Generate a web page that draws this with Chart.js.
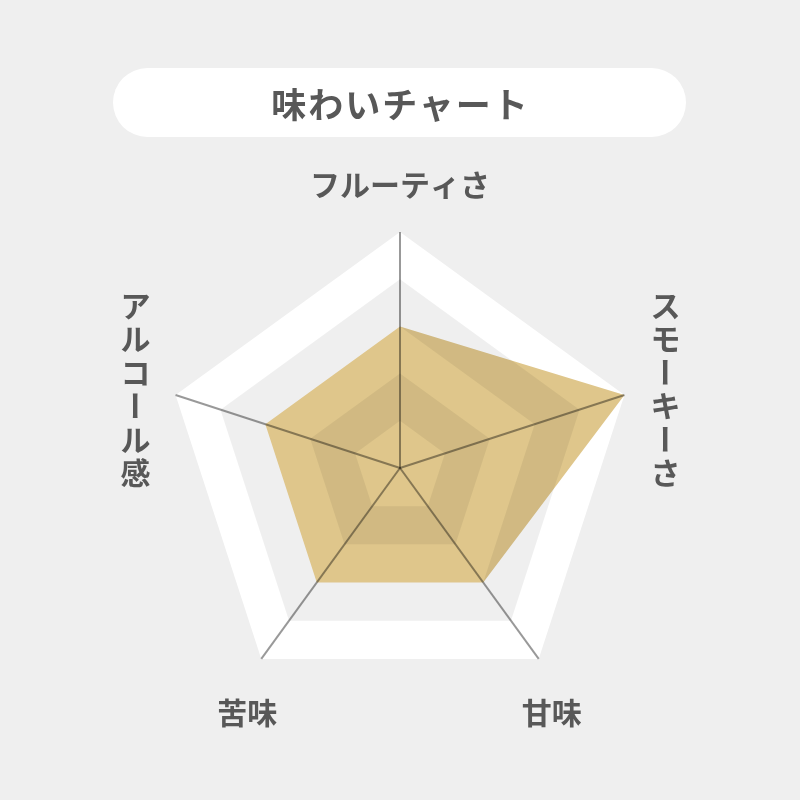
<!DOCTYPE html>
<html>
<head>
<meta charset="utf-8">
<script src="https://cdn.jsdelivr.net/npm/chart.js@4/dist/chart.umd.min.js"></script>
<style>
  html, body { margin: 0; padding: 0; background: #efefef; }
  #wrap { position: relative; width: 800px; height: 800px; }
  #title {
    position: absolute; left: 113px; top: 68px; width: 573px; height: 69px;
    border-radius: 35px; background: #ffffff; color: #585858;
    font-family: "Noto Sans CJK JP", "Noto Sans", sans-serif; font-weight: 700;
    font-size: 35px; line-height: 69px; text-align: center;
    letter-spacing: 2px; text-indent: 2px;
  }
  canvas { position: absolute; left: 0; top: 0; }
</style>
</head>
<body>
<div id="wrap">
  <canvas id="c" width="800" height="800"></canvas>
  <div id="title">味わいチャート</div>
</div>
<script>
// ---- data ----
const categories = ["フルーティさ", "スモーキーさ", "甘味", "苦味", "アルコール感"];
const tasteValues = [3, 5, 3, 3, 3];
const scaleMax = 5;
const shadedBands = [[3, 4], [1, 2]];

// ---- label styling (offsets from each outer vertex, px) ----
const labelOffsets = [[0, -47], [41, -6], [13, 54], [-14, 54], [-40, -6]];
const labelVertical = [false, true, false, false, true];

function polygonPath(ctx, scale, value) {
  const n = scale._pointLabels.length;
  const r = scale.getDistanceFromCenterForValue(value);
  for (let i = 0; i < n; i++) {
    const p = scale.getPointPosition(i, r);
    if (i === 0) ctx.moveTo(p.x, p.y); else ctx.lineTo(p.x, p.y);
  }
  ctx.closePath();
}

const bandPlugin = {
  id: 'bands',
  beforeDatasetsDraw(chart) {
    const ctx = chart.ctx, scale = chart.scales.r;
    ctx.save();
    ctx.beginPath();
    polygonPath(ctx, scale, scaleMax);
    ctx.fillStyle = '#ffffff';
    ctx.fill();
    ctx.restore();
  },
  afterDatasetsDraw(chart) {
    const ctx = chart.ctx, scale = chart.scales.r;
    ctx.save();
    shadedBands.forEach(([lo, hi]) => {
      ctx.beginPath();
      polygonPath(ctx, scale, hi);
      polygonPath(ctx, scale, lo);
      ctx.fillStyle = 'rgba(0,0,0,0.063)';
      ctx.fill('evenodd');
    });
    ctx.restore();
  }
};

const labelPlugin = {
  id: 'labels',
  afterDraw(chart) {
    const ctx = chart.ctx, scale = chart.scales.r;
    ctx.save();
    ctx.fillStyle = '#585858';
    ctx.font = '600 30px "Noto Sans CJK JP", "Noto Sans", sans-serif';
    ctx.textAlign = 'center';
    ctx.textBaseline = 'middle';
    categories.forEach((label, i) => {
      const v = scale.getPointPosition(i, scale.drawingArea);
      const cx = v.x + labelOffsets[i][0];
      const cy = v.y + labelOffsets[i][1];
      if (!labelVertical[i]) {
        ctx.fillText(label, cx, cy);
      } else {
        const chars = Array.from(label);
        const step = 33.5;
        const start = cy - step * (chars.length - 1) / 2;
        chars.forEach((ch, k) => {
          const y = start + k * step;
          if (ch === 'ー') {
            ctx.save();
            ctx.translate(cx, y);
            ctx.rotate(Math.PI / 2);
            ctx.fillText(ch, 0, 0);
            ctx.restore();
          } else {
            ctx.fillText(ch, cx, y);
          }
        });
      }
    });
    ctx.restore();
  }
};

new Chart(document.getElementById('c'), {
  type: 'radar',
  data: {
    labels: categories,
    datasets: [{
      data: tasteValues,
      backgroundColor: '#dfc68b',
      borderWidth: 0,
      pointRadius: 0,
      pointHoverRadius: 0,
      fill: true
    }]
  },
  options: {
    responsive: false,
    animation: false,
    events: [],
    layout: { padding: { left: 164, right: 164, top: 232, bottom: 96 } },
    plugins: { legend: { display: false }, tooltip: { enabled: false } },
    scales: {
      r: {
        min: 0,
        max: scaleMax,
        z: 1,
        ticks: { display: false, stepSize: 1 },
        grid: { display: false, z: 1 },
        angleLines: { display: true, color: 'rgba(0,0,0,0.4)', lineWidth: 2 },
        pointLabels: { display: false }
      }
    }
  },
  plugins: [bandPlugin, labelPlugin]
});
</script>
</body>
</html>
